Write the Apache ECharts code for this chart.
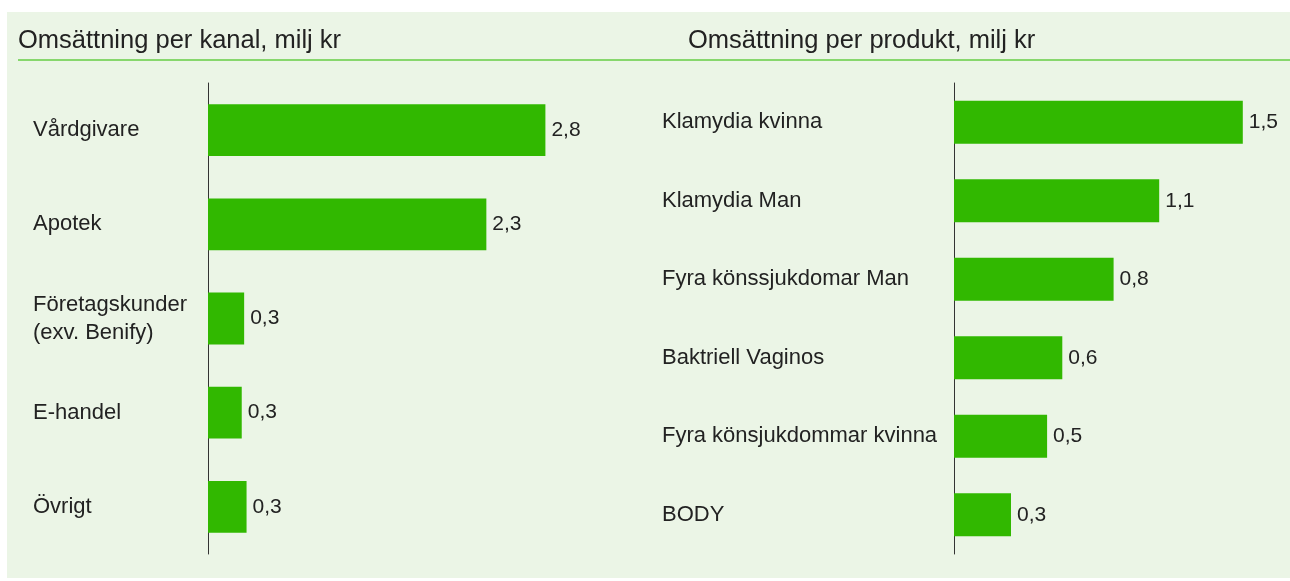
<!DOCTYPE html>
<html>
<head>
<meta charset="utf-8">
<script src="https://cdn.jsdelivr.net/npm/echarts@6/dist/echarts.min.js"></script>
<style>
  html, body { margin: 0; padding: 0; background: #fff; }
  #main { width: 1290px; height: 581px; }
</style>
</head>
<body>
<div id="main"></div>
<script>
// left chart: channels
const kanalNames = ['Vårdgivare', 'Apotek', 'Företagskunder\n(exv. Benify)', 'E-handel', 'Övrigt'];
const kanalValues = [2.8, 2.31, 0.30, 0.28, 0.32];

// right chart: products
const produktNames = ['Klamydia kvinna', 'Klamydia Man', 'Fyra könssjukdomar Man', 'Baktriell Vaginos', 'Fyra könsjukdommar kvinna', 'BODY'];
const produktValues = [1.52, 1.08, 0.84, 0.57, 0.49, 0.30];

const green = '#31b800';
const textCol = '#222';
const font = 'Liberation Sans, Arial, sans-serif';

const fmt = p => p.value.toFixed(1).replace('.', ',');

const chart = echarts.init(document.getElementById('main'));

function catAxis(idx, names, margin) {
	return {
		type: 'category',
		gridIndex: idx,
		data: names,
		inverse: true,
		axisLine: { show: true, lineStyle: { color: '#333', width: 1 } },
		axisTick: { show: false },
		axisLabel: {
			align: 'left',
			margin: margin,
			color: textCol,
			fontSize: 22,
			fontFamily: font,
			lineHeight: 28,
			padding: [3, 0, 0, 0]
		}
	};
}

function valAxis(idx, max) {
	return {
		type: 'value',
		gridIndex: idx,
		min: 0,
		max: max,
		show: false,
		splitLine: { show: false }
	};
}

function barSeries(idx, values) {
	return {
		type: 'bar',
		xAxisIndex: idx,
		yAxisIndex: idx,
		data: values,
		barWidth: '55%',
		itemStyle: { color: green },
		animation: false,
		label: {
			show: true,
			position: 'right',
			distance: 6,
			color: textCol,
			fontSize: 21,
			fontFamily: font,
			formatter: fmt
		}
	};
}

chart.setOption({
	backgroundColor: '#fff',
	animation: false,
	graphic: [
		{ type: 'rect', shape: { x: 7, y: 12, width: 1283, height: 566 }, style: { fill: '#ebf5e6' }, z: -10 },
		{ type: 'line', shape: { x1: 18, y1: 60, x2: 1290, y2: 60 }, style: { stroke: '#66cc44', lineWidth: 1.5 } },
		{ type: 'text', left: 18, top: 28, style: { text: 'Omsättning per kanal, milj kr', fill: textCol, fontSize: 25.5, fontFamily: font } },
		{ type: 'text', left: 688, top: 28, style: { text: 'Omsättning per produkt, milj kr', fill: textCol, fontSize: 25.5, fontFamily: font } }
	],
	grid: [
		{ left: 208, top: 83, width: 361.5, height: 471 },
		{ left: 954, top: 83, width: 304, height: 471 }
	],
	xAxis: [valAxis(0, 3), valAxis(1, 1.6)],
	yAxis: [catAxis(0, kanalNames, 175), catAxis(1, produktNames, 292)],
	series: [barSeries(0, kanalValues), barSeries(1, produktValues)]
});
</script>
</body>
</html>
